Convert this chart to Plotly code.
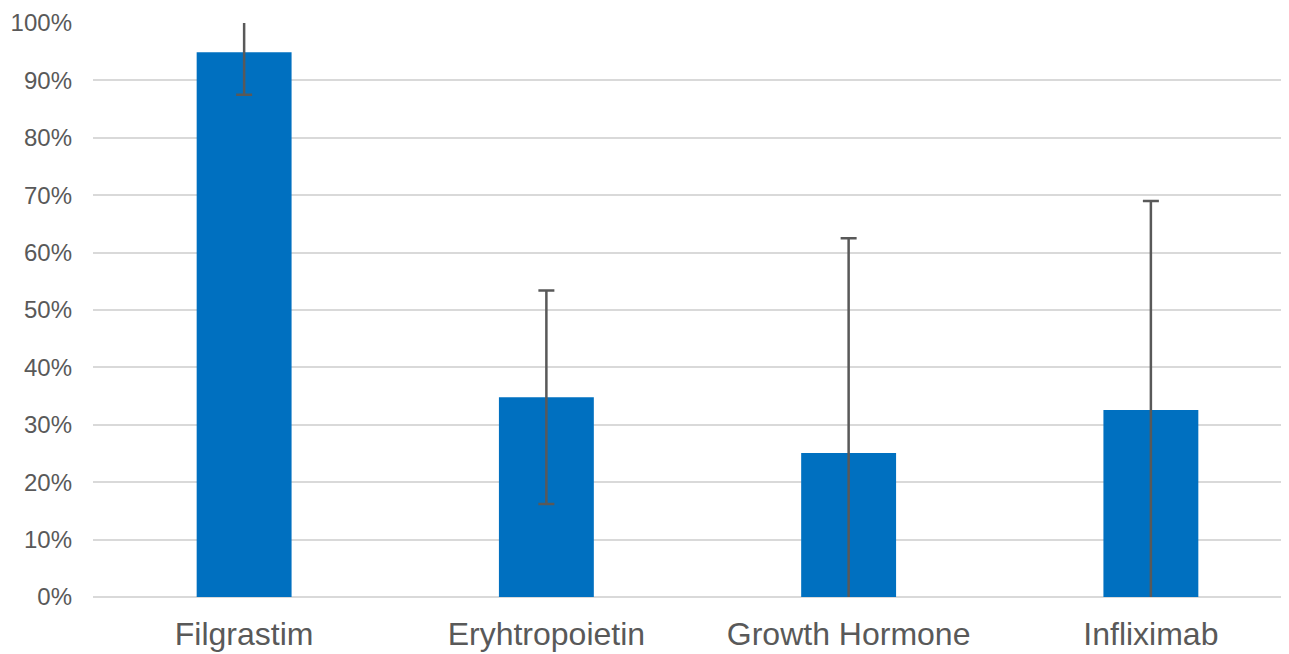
import plotly.graph_objects as go

categories = ["Filgrastim", "Eryhtropoietin", "Growth Hormone", "Infliximab"]
values = [0.949, 0.348, 0.251, 0.326]
errors = [0.074, 0.186, 0.374, 0.364]
y_ticks = [i / 10 for i in range(11)]
y_tick_labels = [f"{i*10}%" for i in range(11)]

fig = go.Figure(go.Bar(
    x=categories,
    y=values,
    marker=dict(color="#0070C0", line=dict(width=0)),
    width=0.314,
    error_y=dict(type="data", array=errors, visible=True,
                 color="#595959", thickness=2.5, width=8),
))

fig.update_layout(
    width=1294, height=654,
    margin=dict(l=85, r=0, t=15, b=65),
    plot_bgcolor="white", paper_bgcolor="white",
    showlegend=False,
    font=dict(family="Liberation Sans, Arial", color="#595959"),
)
fig.update_xaxes(
    tickfont=dict(size=32, color="#595959"),
    showgrid=False, showline=False, ticks="",
    automargin=False, ticklabelstandoff=15,
)
fig.update_yaxes(
    range=[0, 1],
    tickvals=y_ticks, ticktext=y_tick_labels,
    tickfont=dict(size=24, color="#595959"),
    showgrid=True, gridcolor="#D9D9D9", gridwidth=2,
    zeroline=True, zerolinecolor="#D9D9D9", zerolinewidth=2,
    showline=False, ticks="", ticklabelstandoff=20,
    automargin=False,
)

fig.write_html("out.html")
